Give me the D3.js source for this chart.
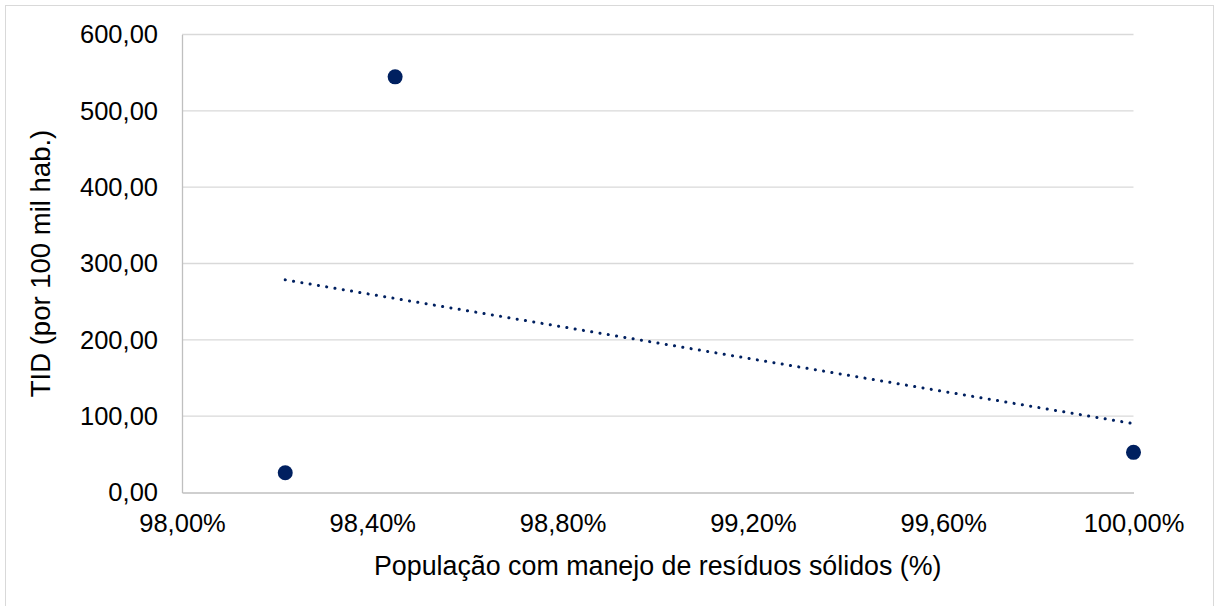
<!DOCTYPE html>
<html><head><meta charset="utf-8">
<script src="https://cdn.jsdelivr.net/npm/d3@7"></script>
<style>body{margin:0;background:#fff;} svg{display:block;font-family:"Liberation Sans",Arial,sans-serif;}</style>
</head><body>
<svg id="c" width="1214" height="606"></svg>
<script>
const xValues = [98.217, 98.448, 100.0];
const yValues = [25.9, 544.5, 52.6];
const xTicks = [98.0, 98.4, 98.8, 99.2, 99.6, 100.0];
const yTicks = [0, 100, 200, 300, 400, 500, 600];
const xTitle = "População com manejo de resíduos sólidos (%)";
const yTitle = "TID (por 100 mil hab.)";

const svg = d3.select("#c");
const navy = "#002060";
const fmt = v => v.toFixed(2).replace(".", ",");

svg.append("rect").attr("x",5.5).attr("y",5.5).attr("width",1208).attr("height",605)
  .attr("fill","#fff").attr("stroke","#d9d9d9").attr("stroke-width",1);

const x = d3.scaleLinear().domain([98, 100]).range([182, 1133.5]);
const y = d3.scaleLinear().domain([0, 600]).range([492.5, 34.5]);

// gridlines
svg.append("g").selectAll("line").data(yTicks.filter(d=>d>0)).join("line")
  .attr("x1",x(98)).attr("x2",x(100)).attr("y1",d=>y(d)).attr("y2",d=>y(d))
  .attr("stroke","#d9d9d9").attr("stroke-width",1.3);

// axes
const yAxis = svg.append("g").attr("transform",`translate(${x(98)},0)`)
  .call(d3.axisLeft(y).tickValues(yTicks).tickFormat(fmt).tickSize(0).tickPadding(24));
yAxis.select(".domain").attr("stroke","#bfbfbf").attr("stroke-width",1.3);
yAxis.selectAll("text").attr("font-size",25.5).attr("fill","#000").attr("font-family","Liberation Sans, Arial, sans-serif");

const xAxis = svg.append("g").attr("transform",`translate(0,${y(0)})`)
  .call(d3.axisBottom(x).tickValues(xTicks).tickFormat(d=>fmt(d)+"%").tickSize(0).tickPadding(21));
xAxis.select(".domain").attr("stroke","#bfbfbf").attr("stroke-width",1.3);
xAxis.selectAll("text").attr("font-size",25.5).attr("fill","#000").attr("font-family","Liberation Sans, Arial, sans-serif");

// trendline (least squares from data)
const n = xValues.length;
const mx = d3.mean(xValues), my = d3.mean(yValues);
let sxy = 0, sxx = 0;
for (let i=0;i<n;i++){ sxy += (xValues[i]-mx)*(yValues[i]-my); sxx += (xValues[i]-mx)**2; }
const slope = sxy/sxx, icpt = my - slope*mx;
const x0 = d3.min(xValues), x1 = d3.max(xValues);
svg.append("line")
  .attr("x1",x(x0)).attr("y1",y(icpt+slope*x0))
  .attr("x2",x(x1)).attr("y2",y(icpt+slope*x1))
  .attr("stroke",navy).attr("stroke-width",3).attr("stroke-linecap","round")
  .attr("stroke-dasharray","0.1 8.3");

// points
svg.append("g").selectAll("circle").data(xValues.map((v,i)=>[v,yValues[i]])).join("circle")
  .attr("cx",d=>x(d[0])).attr("cy",d=>y(d[1])).attr("r",7.5).attr("fill",navy);

// titles
svg.append("text").attr("x",(x(98)+x(100))/2).attr("y",575).attr("text-anchor","middle")
  .attr("font-size",26.8).text(xTitle);
svg.append("text").attr("transform",`translate(50,${(y(0)+y(600))/2}) rotate(-90)`)
  .attr("text-anchor","middle").attr("font-size",27.5).text(yTitle);
</script>
</body></html>
